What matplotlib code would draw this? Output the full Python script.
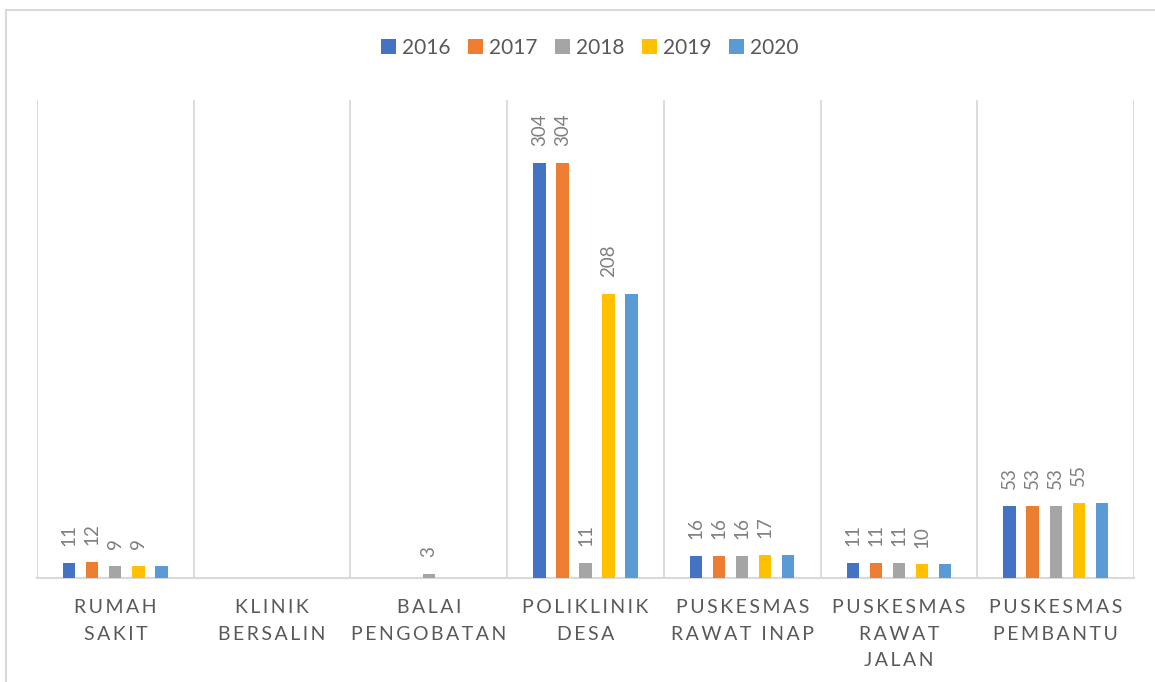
import matplotlib
matplotlib.use("Agg")
import matplotlib.pyplot as plt
import numpy as np
from matplotlib.lines import Line2D

plt.rcParams['font.family'] = ['Lato', 'DejaVu Sans']

categories = ["RUMAH\nSAKIT", "KLINIK\nBERSALIN", "BALAI\nPENGOBATAN", "POLIKLINIK\nDESA",
              "PUSKESMAS\nRAWAT INAP", "PUSKESMAS\nRAWAT\nJALAN", "PUSKESMAS\nPEMBANTU"]
years = ["2016", "2017", "2018", "2019", "2020"]
v2016 = [11, 0, 0, 304, 16, 11, 53]
v2017 = [12, 0, 0, 304, 16, 11, 53]
v2018 = [9, 0, 3, 11, 16, 11, 53]
v2019 = [9, 0, 0, 208, 17, 10, 55]
v2020 = [9, 0, 0, 208, 17, 10, 55]
series = [v2016, v2017, v2018, v2019, v2020]
show_labels = [True, True, True, True, False]
colors = ["#4472C4", "#ED7D31", "#A5A5A5", "#FFC000", "#5B9BD5"]

THIN = "\u2009"


def spaced(label):
    # widen letter spacing with thin spaces; wider gap between words
    lines = []
    for line in label.split("\n"):
        words = [THIN.join(w) for w in line.split(" ")]
        lines.append((THIN + " " + THIN).join(words))
    return "\n".join(lines)


W, H = 1155, 682
fig = plt.figure(figsize=(W / 100, H / 100), dpi=100)
ax = fig.add_axes([37 / W, (H - 578) / H, (1134 - 37) / W, (578 - 100) / H])

x = np.arange(len(categories))
step = 0.147
width = 0.078
for i, (vals, col) in enumerate(zip(series, colors)):
    pos = x + (i - 2) * step
    ax.bar(pos, vals, width=width, color=col, label=years[i], zorder=3)
    if show_labels[i]:
        for px, v in zip(pos, vals):
            if v > 0:
                ax.annotate(str(v), (px, v), xytext=(0, 12), textcoords="offset points",
                            rotation=90, ha="center", va="bottom", fontsize=13.5,
                            color="#7f7f7f")

ax.set_xlim(-0.5, len(categories) - 0.5)
ax.set_ylim(0, 350)
for b in np.arange(-0.5, len(categories), 1.0):
    ax.axvline(b, color="#d9d9d9", lw=1.3, zorder=1)

for s in ["top", "right", "left"]:
    ax.spines[s].set_visible(False)
ax.spines["bottom"].set_color("#d9d9d9")
ax.spines["bottom"].set_linewidth(1.5)
ax.set_yticks([])
ax.set_xticks(x)
ax.set_xticklabels([spaced(c) for c in categories], fontsize=14, color="#595959",
                   linespacing=1.7)
ax.tick_params(axis="x", length=0, pad=15)

leg = fig.legend(loc="center", bbox_to_anchor=(590 / W, 1 - 48 / H), ncol=5,
                 frameon=False, fontsize=15, handlelength=0.7, handleheight=0.7,
                 handletextpad=0.3, columnspacing=0.85)
for t in leg.get_texts():
    t.set_color("#595959")

# outer chart border (top and left edges)
fig.add_artist(Line2D([6 / W, 1.0], [1 - 10 / H, 1 - 10 / H], color="#d9d9d9", lw=1.5,
                      transform=fig.transFigure))
fig.add_artist(Line2D([6 / W, 6 / W], [0, 1 - 10 / H], color="#d9d9d9", lw=1.5,
                      transform=fig.transFigure))

fig.savefig("out.png", dpi=100, facecolor="white")
